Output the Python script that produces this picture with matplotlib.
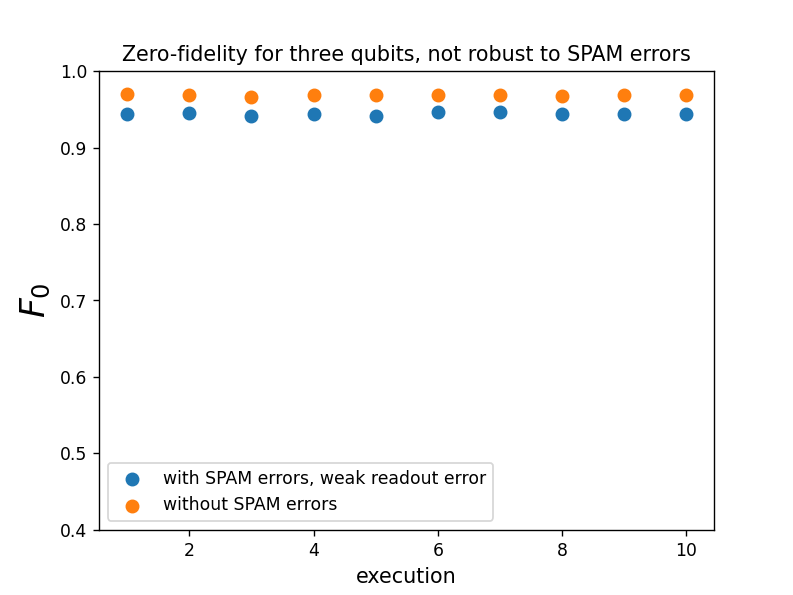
import numpy as np
import matplotlib
matplotlib.use("Agg")
import matplotlib.pyplot as plt

executions = np.arange(1, 11)
f0_spam = [0.944, 0.9453, 0.941, 0.944, 0.9419, 0.9466, 0.9462, 0.9436, 0.9436, 0.944]
f0_nospam = [0.9707, 0.969, 0.9668, 0.969, 0.9694, 0.9685, 0.9685, 0.9676, 0.969, 0.9694]

fig = plt.figure(figsize=(6.4, 4.8), dpi=124)
ax = fig.add_subplot(111)
ax.scatter(executions, f0_spam, s=50, label="with SPAM errors, weak readout error")
ax.scatter(executions, f0_nospam, s=50, label="without SPAM errors")
ax.set_ylim(0.4, 1.0)
ax.set_title("Zero-fidelity for three qubits, not robust to SPAM errors")
ax.set_xlabel("execution", fontsize=12)
ax.set_ylabel("$F_0$", fontsize=20)
ax.legend(loc="lower left")
fig.savefig("out.png")
